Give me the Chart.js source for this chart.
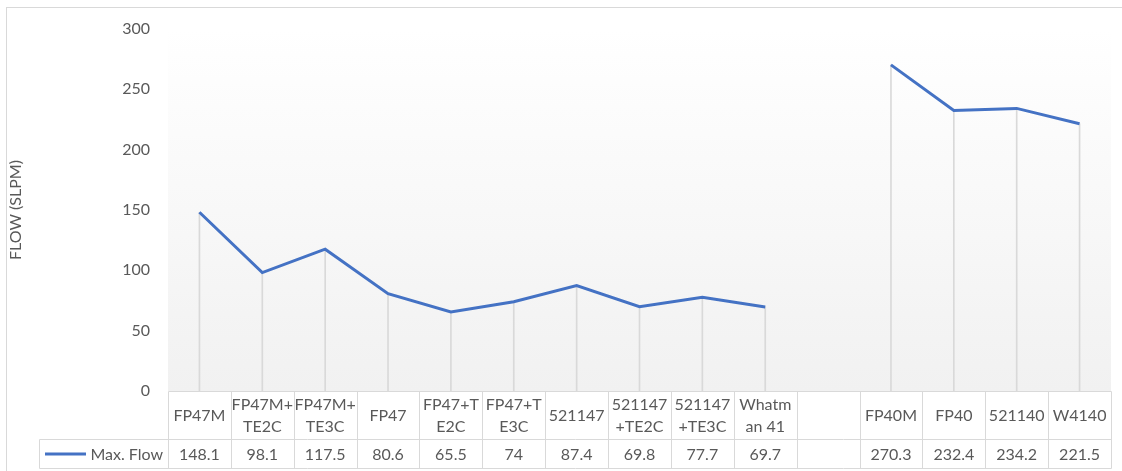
<!DOCTYPE html>
<html>
<head>
<meta charset="utf-8">
<script src="https://cdn.jsdelivr.net/npm/chart.js@4"></script>
<style>
html,body{margin:0;padding:0;background:#fff;}
canvas{display:block;}
</style>
</head>
<body>
<canvas id="c" width="1122" height="471"></canvas>
<script>
// ---- data ----
const categories = ["FP47M","FP47M+TE2C","FP47M+TE3C","FP47","FP47+TE2C","FP47+TE3C","521147","521147+TE2C","521147+TE3C","Whatman 41","","FP40M","FP40","521140","W4140"];
const headerLines = [["FP47M"],["FP47M+","TE2C"],["FP47M+","TE3C"],["FP47"],["FP47+T","E2C"],["FP47+T","E3C"],["521147"],["521147","+TE2C"],["521147","+TE3C"],["Whatm","an 41"],[""],["FP40M"],["FP40"],["521140"],["W4140"]];
const maxFlow = [148.1,98.1,117.5,80.6,65.5,74,87.4,69.8,77.7,69.7,null,270.3,232.4,234.2,221.5];
const seriesName = "Max. Flow";
const yTicks = [0,50,100,150,200,250,300];
const yTitle = "FLOW (SLPM)";

const FONT = "Lato";
const TXT = "#595959";
const GRID = "#d9d9d9";
const BLUE = "#4472C4";

const bgPlugin = {
  id: 'bg',
  beforeDraw(chart) {
    const {ctx, chartArea: a} = chart;
    const g = ctx.createLinearGradient(0, a.top, 0, a.bottom);
    g.addColorStop(0, '#ffffff');
    g.addColorStop(1, '#f1f1f1');
    ctx.save();
    ctx.fillStyle = g;
    ctx.fillRect(a.left, a.top, a.right - a.left, a.bottom - a.top);
    ctx.restore();
  }
};

const tablePlugin = {
  id: 'table',
  afterDraw(chart) {
    const {ctx, chartArea: a} = chart;
    const xs = chart.scales.x;
    const n = categories.length;
    const cx = categories.map((_, i) => xs.getPixelForValue(i));
    const bounds = [a.left];
    for (let i = 1; i < n; i++) bounds.push((cx[i - 1] + cx[i]) / 2);
    bounds.push(a.right);
    const top = a.bottom, mid = 439.5, bot = 468.5, legL = 39.5;
    ctx.save();
    ctx.strokeStyle = GRID;
    ctx.lineWidth = 1;
    ctx.beginPath();
    const r = v => Math.round(v) + 0.5;
    ctx.moveTo(r(a.left), r(top)); ctx.lineTo(r(a.right), r(top));
    ctx.moveTo(legL, mid); ctx.lineTo(r(a.right), mid);
    ctx.moveTo(legL, bot); ctx.lineTo(r(a.right), bot);
    ctx.moveTo(legL, mid); ctx.lineTo(legL, bot);
    bounds.forEach(b => { ctx.moveTo(r(b), r(top)); ctx.lineTo(r(b), bot); });
    ctx.stroke();

    ctx.fillStyle = TXT;
    ctx.font = "16px " + FONT;
    ctx.textAlign = 'center';
    ctx.textBaseline = 'middle';
    const hc = (top + mid) / 2 + 1;
    headerLines.forEach((lines, i) => {
      const lh = 22;
      const y0 = hc - (lines.length - 1) * lh / 2;
      lines.forEach((t, k) => ctx.fillText(t, cx[i], y0 + k * lh));
    });
    const vc = (mid + bot) / 2 + 1;
    maxFlow.forEach((v, i) => { if (v !== null) ctx.fillText(String(v), cx[i], vc); });
    // legend key
    ctx.strokeStyle = BLUE;
    ctx.lineWidth = 3;
    ctx.beginPath();
    ctx.moveTo(45, 454); ctx.lineTo(86, 454);
    ctx.stroke();
    ctx.textAlign = 'right';
    ctx.fillText(seriesName, 163, vc);
    // outer border
    ctx.strokeStyle = GRID;
    ctx.lineWidth = 1;
    ctx.strokeRect(6.5, 7.5, 1200, 600);
    ctx.restore();
  }
};

new Chart(document.getElementById('c'), {
  type: 'line',
  data: {
    labels: categories,
    datasets: [
      {
        type: 'line',
        label: seriesName,
        data: maxFlow,
        borderColor: BLUE,
        borderWidth: 3,
        pointRadius: 0,
        tension: 0,
        spanGaps: false,
        order: 0
      },
      {
        type: 'bar',
        label: 'drop',
        data: maxFlow,
        backgroundColor: GRID,
        barThickness: 1,
        order: 1
      }
    ]
  },
  options: {
    responsive: false,
    devicePixelRatio: 1,
    animation: false,
    layout: { padding: { left: 6, right: 11, top: 29, bottom: 80 } },
    plugins: { legend: { display: false }, tooltip: { enabled: false } },
    scales: {
      x: {
        display: false,
        offset: true
      },
      y: {
        min: 0, max: 300,
        afterBuildTicks(scale) { scale.ticks = yTicks.map(v => ({ value: v })); },
        afterFit(scale) { scale.width = 162; },
        grid: { display: false, drawTicks: false },
        border: { display: false },
        ticks: { color: TXT, font: { family: FONT, size: 16 }, padding: 18 },
        title: { display: true, text: yTitle, color: TXT, font: { family: FONT, size: 16 }, padding: 0 }
      }
    }
  },
  plugins: [bgPlugin, tablePlugin]
});
</script>
</body>
</html>
